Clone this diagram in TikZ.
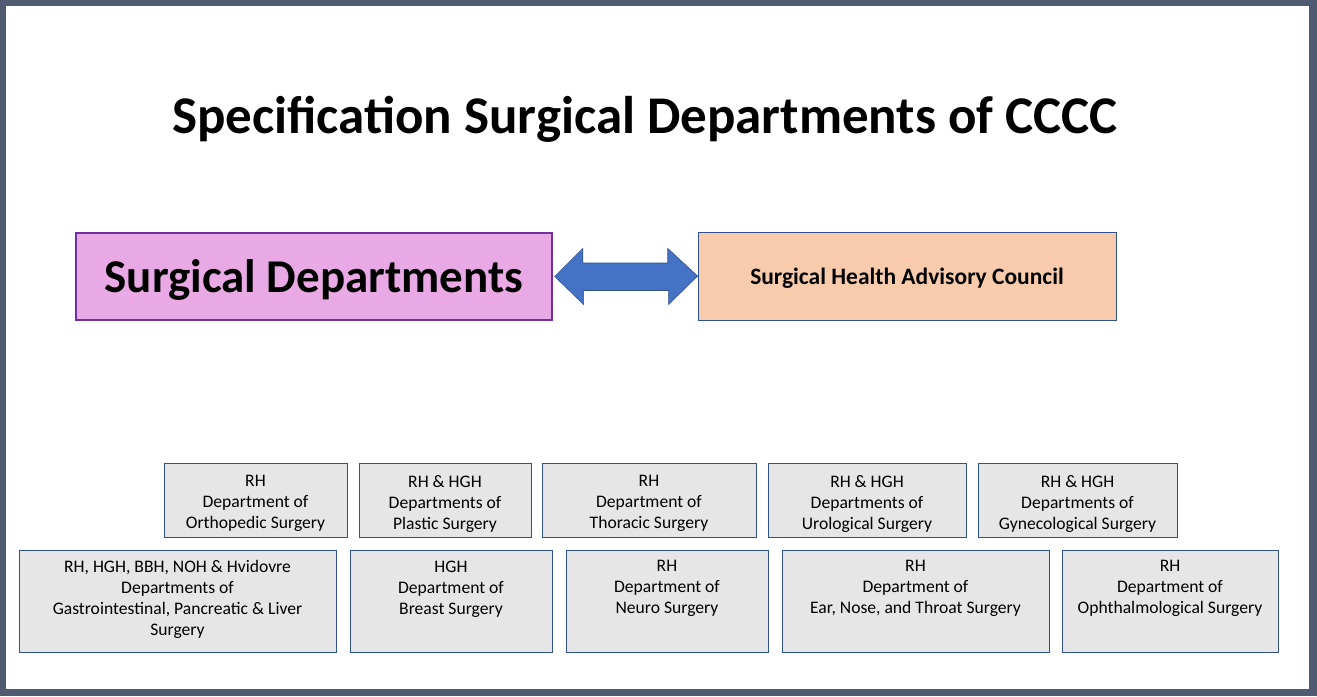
\documentclass[tikz,border=0pt]{standalone}
\usepackage{fontspec}
\setmainfont{Carlito}
\usepackage{xcolor}
\definecolor{framegray}{HTML}{505B71}
\definecolor{pinkfill}{HTML}{E8A9E4}
\definecolor{purpleline}{HTML}{7030A0}
\definecolor{peachfill}{HTML}{F8CBAD}
\definecolor{boxgray}{HTML}{E7E6E6}
\definecolor{boxline}{HTML}{2F528F}
\definecolor{arrowblue}{HTML}{4472C4}

\begin{document}
\begin{tikzpicture}[x=1pt,y=-1pt,
	dept/.style={draw=boxline,fill=boxgray,line width=1pt,inner sep=0pt},
	depttext/.style={anchor=north,align=center,inner sep=0pt,font=\fontsize{17.6}{21}\selectfont},
	bigbox/.style={inner sep=0pt,font=\bfseries}]
			% frame of the slide
			\useasboundingbox (0,0) rectangle (1317,696);
			\fill[framegray] (0,0) rectangle (1317,696);
			\fill[white] (6,6) rectangle (1309,689);
			
			\node[anchor=base,font=\fontsize{53}{63}\selectfont\bfseries] (title) at (645,133) {Specification Surgical Departments of CCCC};
			
			\node[bigbox,draw=purpleline,line width=2.5pt,fill=pinkfill,minimum width=476,minimum height=87,text depth=0pt,font=\fontsize{47}{56}\selectfont\bfseries] (surg) at (314,276.5) {Surgical Departments};
			\node[bigbox,draw=boxline,line width=0.8pt,fill=peachfill,minimum width=418,minimum height=88,text depth=0pt,font=\fontsize{23.5}{28}\selectfont\bfseries] (council) at (907,276) {Surgical Health Advisory Council};
			
			% block arrow between the two boxes
			\filldraw[fill=arrowblue,draw=boxline,line width=0.6pt] ([xshift=1.5]surg.east) -- ++(28,-28) -- ++(0,14.5) -- ++(85,0) -- ++(0,-14.5) -- (council.west) -- ++(-29,28.5) -- ++(0,-14) -- ++(-85,0) -- ++(0,14) -- cycle;
			
			% upper row
			\foreach \n/\x/\w/\t in {ortho/255.5/183/{RH\\Department of\\Orthopedic Surgery},
				plastic/445/172/{RH \& HGH\\Departments of\\Plastic Surgery},
				thoracic/649/214/{RH\\Department of\\Thoracic Surgery},
				uro/867/198/{RH \& HGH\\Departments of\\Urological Surgery},
				gyn/1077.5/199/{RH \& HGH\\Departments of\\Gynecological Surgery}}{
				\node[dept,minimum width=\w,minimum height=74] (\n) at (\x,500) {};
				\node[depttext] (\n-t) at ([yshift=-12.5]\n.north) {\t};
			}
			
			% lower row
			\foreach \n/\x/\w/\t in {gastro/177.5/317/{RH, HGH, BBH, NOH \& Hvidovre\\Departments of\\Gastrointestinal, Pancreatic \& Liver\\Surgery},
				breast/451/202/{HGH\\Department of\\Breast Surgery},
				neuro/667/202/{RH\\Department of\\Neuro Surgery},
				ent/915.5/267/{RH\\Department of\\Ear, Nose, and Throat Surgery},
				ophth/1170/216/{RH\\Department of\\Ophthalmological Surgery}}{
				\node[dept,minimum width=\w,minimum height=102] (\n) at (\x,601) {};
				\node[depttext] (\n-t) at ([yshift=-11]\n.north) {\t};
			}
\end{tikzpicture}
\end{document}
